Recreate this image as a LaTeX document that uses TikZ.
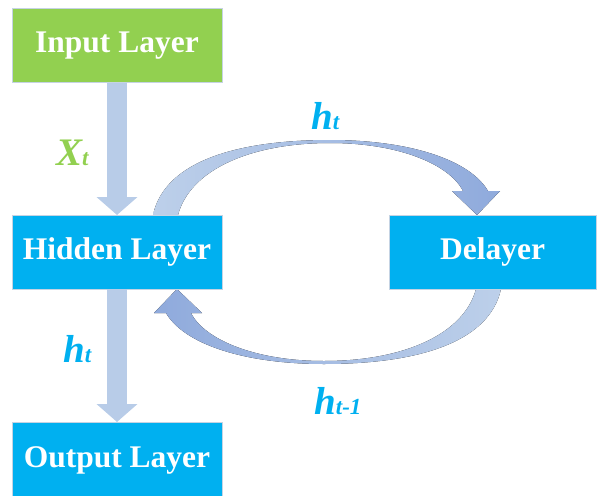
\documentclass[tikz,border=0pt]{standalone}
\usepackage{fontspec}
\setmainfont{Liberation Serif}
\usetikzlibrary{arrows.meta,calc}
\definecolor{boxblue}{HTML}{00B0F0}
\definecolor{boxgreen}{HTML}{92D050}
\definecolor{arrlight}{HTML}{BDD0EA}
\definecolor{arrdark}{HTML}{8FAADC}
\definecolor{arrmid}{HTML}{B8CCE8}
\definecolor{edgecol}{HTML}{C5D3E3}
\newcommand{\lblmain}[1]{{\fontsize{39}{39}\selectfont #1}}
\newcommand{\lblsub}[1]{{\fontsize{23}{23}\selectfont #1}}
\begin{document}
\begin{tikzpicture}[x=1pt,y=-1pt,
  layer/.style={minimum width=210pt, minimum height=74pt, inner sep=0pt, outer sep=0pt,
    draw=edgecol, line width=0.8pt, text=white,
    font=\fontsize{31.5}{31.5}\selectfont\bfseries},
  vblock/.style={line width=20pt, arrmid, -{Triangle[length=18pt,width=40pt]}},
  lab/.style={anchor=base west, inner sep=0pt, font=\bfseries\itshape}]
\useasboundingbox (0,0) rectangle (598,496);

% curved arrows (drawn first, boxes cover their ends)
\fill[left color=arrlight, right color=arrdark]
  (153,215) .. controls (165,160) and (240,140) .. (330,140)
  .. controls (410,140) and (470,160) .. (488,191)
  -- (500,191) -- (477,215) -- (452,191) -- (463,191)
  .. controls (450,165) and (400,143) .. (330,143)
  .. controls (250,143) and (190,170) .. (178,215) -- cycle;
\fill[left color=arrdark, right color=arrlight]
  (501,289) .. controls (489,344) and (414,364) .. (324,364)
  .. controls (244,364) and (184,344) .. (166,313)
  -- (154,313) -- (177,289) -- (202,313) -- (191,313)
  .. controls (204,339) and (254,361) .. (324,361)
  .. controls (404,361) and (464,334) .. (476,289) -- cycle;

% boxes
\node[layer, fill=boxgreen] (in)  at (117,45.5) {Input Layer};
\node[layer, fill=boxblue]  (hid) at (117,252)  {Hidden Layer};
\node[layer, fill=boxblue, minimum height=76pt] (out) at (117,460) {Output Layer};
\node[layer, fill=boxblue, minimum width=207pt] (del) at (492.5,252) {Delayer};

% straight block arrows
\draw[vblock] (in.south) -- (hid.north);
\draw[vblock] (hid.south) -- (out.north);

% labels
\node[lab, text=boxgreen] (xt) at (56,165) {\lblmain{X}\lblsub{t}};
\node[lab, text=boxblue] (hl) at (63,362) {\lblmain{h}\lblsub{t}};
\node[lab, text=boxblue] (htop) at (311,129) {\lblmain{h}\lblsub{t}};
\node[lab, text=boxblue] (hbot) at (314,414) {\lblmain{h}\lblsub{t-1}};
\end{tikzpicture}
\end{document}
